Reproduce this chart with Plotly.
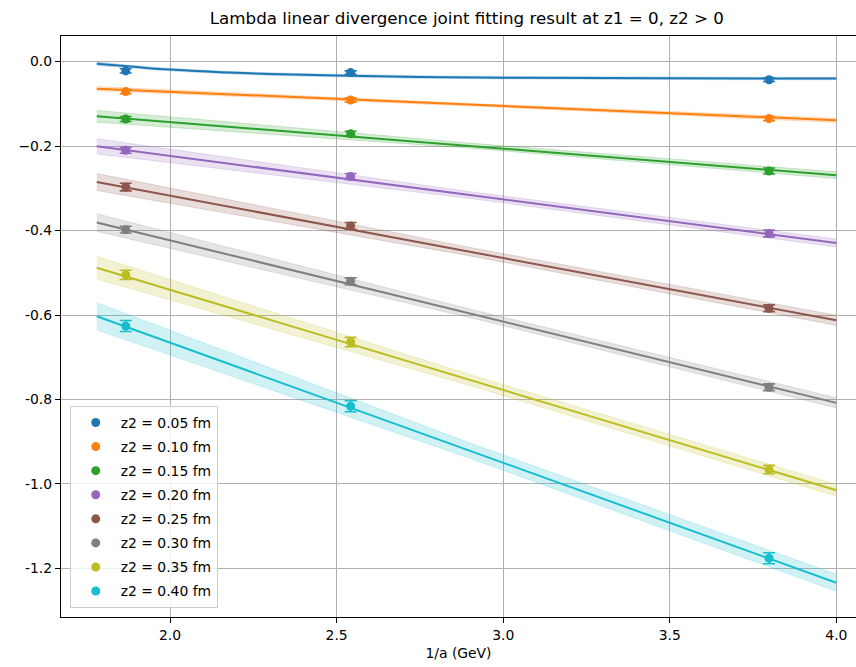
import plotly.graph_objects as go

# ---------------- data ----------------
labels = ["z2 = 0.05 fm", "z2 = 0.10 fm", "z2 = 0.15 fm", "z2 = 0.20 fm",
          "z2 = 0.25 fm", "z2 = 0.30 fm", "z2 = 0.35 fm", "z2 = 0.40 fm"]
colors = ["#1f77b4", "#ff7f0e", "#2ca02c", "#9467bd",
          "#8c564b", "#7f7f7f", "#bcbd22", "#17becf"]

inv_a = [1.867, 2.542, 3.798]

pts_005 = [-0.022, -0.026, -0.043]
pts_010 = [-0.071, -0.091, -0.135]
pts_015 = [-0.136, -0.171, -0.259]
pts_020 = [-0.210, -0.272, -0.407]
pts_025 = [-0.297, -0.389, -0.584]
pts_030 = [-0.398, -0.520, -0.771]
pts_035 = [-0.505, -0.664, -0.966]
pts_040 = [-0.626, -0.816, -1.176]

err_005 = [0.005, 0.004, 0.004]
err_010 = [0.005, 0.005, 0.005]
err_015 = [0.006, 0.006, 0.007]
err_020 = [0.007, 0.007, 0.008]
err_025 = [0.009, 0.008, 0.008]
err_030 = [0.008, 0.008, 0.008]
err_035 = [0.011, 0.011, 0.010]
err_040 = [0.013, 0.013, 0.013]

# fit curves
fit_x_blue = [1.78, 1.9, 2.0, 2.15, 2.3, 2.5, 2.75, 3.0, 3.5, 4.0]
fit_005 = [-0.005, -0.013, -0.019, -0.025, -0.0295, -0.033, -0.0365, -0.038, -0.0395, -0.040]
band_005 = [0.004, 0.003, 0.003, 0.003, 0.003, 0.003, 0.003, 0.003, 0.003, 0.003]

fit_x = [1.78, 2.9, 4.0]
fit_010 = [-0.064, -0.102, -0.139]
fit_015 = [-0.1295, -0.199, -0.269]
fit_020 = [-0.2006, -0.316, -0.4295]
fit_025 = [-0.285, -0.450, -0.6126]
fit_030 = [-0.381, -0.596, -0.808]
fit_035 = [-0.488, -0.754, -1.015]
fit_040 = [-0.603, -0.921, -1.234]

band_010 = [0.005, 0.003, 0.005]
band_015 = [0.014, 0.006, 0.008]
band_020 = [0.018, 0.008, 0.0095]
band_025 = [0.020, 0.010, 0.012]
band_030 = [0.021, 0.010, 0.012]
band_035 = [0.027, 0.013, 0.014]
band_040 = [0.032, 0.018, 0.020]

yticks = [0.0, -0.2, -0.4, -0.6, -0.8, -1.0, -1.2]
yticktext = ["0.0", "\u22120.2", "-0.4", "-0.6", "-0.8", "-1.0", "-1.2"]
xticks = [2.0, 2.5, 3.0, 3.5, 4.0]
xticktext = ["2.0", "2.5", "3.0", "3.5", "4.0"]

points = [pts_005, pts_010, pts_015, pts_020, pts_025, pts_030, pts_035, pts_040]
errors = [err_005, err_010, err_015, err_020, err_025, err_030, err_035, err_040]
fits = [fit_005, fit_010, fit_015, fit_020, fit_025, fit_030, fit_035, fit_040]
bands = [band_005, band_010, band_015, band_020, band_025, band_030, band_035, band_040]
fitxs = [fit_x_blue] + [fit_x] * 7


def rgba(hexc, a):
    h = hexc.lstrip("#")
    r, g, b = int(h[0:2], 16), int(h[2:4], 16), int(h[4:6], 16)
    return f"rgba({r},{g},{b},{a})"


FONT = "DejaVu Sans"
fig = go.Figure()

for i in range(8):
    fx, fy, bw = fitxs[i], fits[i], bands[i]
    up = [y + w for y, w in zip(fy, bw)]
    lo = [y - w for y, w in zip(fy, bw)]
    shape = "spline" if i == 0 else "linear"
    fig.add_trace(go.Scatter(
        x=fx, y=lo, mode="lines",
        line=dict(width=0.8, color=rgba(colors[i], 0.25), shape=shape),
        hoverinfo="skip", showlegend=False))
    fig.add_trace(go.Scatter(
        x=fx, y=up, mode="lines", fill="tonexty", fillcolor=rgba(colors[i], 0.2),
        line=dict(width=0.8, color=rgba(colors[i], 0.25), shape=shape),
        hoverinfo="skip", showlegend=False))
    fig.add_trace(go.Scatter(
        x=fx, y=fy, mode="lines", line=dict(color=colors[i], width=2, shape=shape),
        showlegend=False, hoverinfo="skip"))

for i in range(8):
    fig.add_trace(go.Scatter(
        x=inv_a, y=points[i], mode="markers", name=labels[i],
        legendgroup=f"g{i}",
        marker=dict(color=colors[i], size=9),
        error_y=dict(type="data", array=errors[i], color=colors[i],
                     thickness=1.6, width=6)))

axis_common = dict(
    showgrid=True, gridcolor="#b0b0b0", gridwidth=1,
    zeroline=False, showline=True, linecolor="black", linewidth=1.2,
    ticks="outside", ticklen=5, tickwidth=1, tickcolor="black",
    tickfont=dict(family=FONT, size=13.9, color="black"),
)

fig.update_layout(
    width=856, height=667,
    margin=dict(l=61, r=0, t=36, b=50),
    paper_bgcolor="white", plot_bgcolor="white",
    title=dict(text="Lambda linear divergence joint fitting result at z1 = 0, z2 > 0",
               x=0.5105, xref="paper", xanchor="center",
               y=1 - 18.5 / 667, yref="container", yanchor="middle",
               font=dict(family=FONT, size=16.7, color="black")),
    xaxis=dict(range=[1.6727, 4.059], tickvals=xticks, ticktext=xticktext,
               mirror=True,
               title=dict(text="1/a (GeV)", font=dict(family=FONT, size=13.9, color="black"),
                          standoff=6),
               **axis_common),
    yaxis=dict(range=[-1.315, 0.0606], tickvals=yticks, ticktext=yticktext,
               mirror=False, **axis_common),
    legend=dict(x=0.011, y=0.0155, xanchor="left", yanchor="bottom",
                bgcolor="rgba(255,255,255,0.8)", bordercolor="#cccccc", borderwidth=1,
                font=dict(family=FONT, size=13.9, color="black"),
                tracegroupgap=3, itemwidth=40),
    showlegend=True,
)

fig.write_html("out.html")
